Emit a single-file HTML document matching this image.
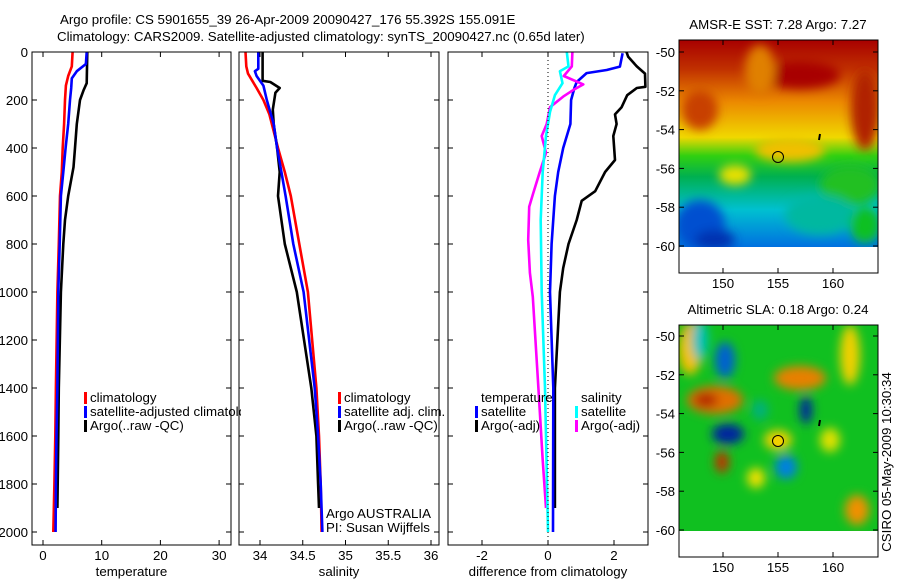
<!DOCTYPE html>
<html><head><meta charset="utf-8"><style>
body{margin:0;background:#fff;}
svg text{font-family:"Liberation Sans",sans-serif;font-size:13.3px;fill:#000;}
</style></head><body>
<svg id="c" width="900" height="580" viewBox="0 0 900 580" xmlns="http://www.w3.org/2000/svg">
<defs>
<filter id="blur" x="-50%" y="-50%" width="200%" height="200%"><feGaussianBlur stdDeviation="5"/></filter>
<clipPath id="clip1"><rect x="679" y="40" width="199" height="207"/></clipPath>
<clipPath id="clip2"><rect x="679" y="325" width="199" height="206"/></clipPath>
<clipPath id="legclip"><rect x="32" y="380" width="209" height="60"/></clipPath>
<clipPath id="p3clip"><rect x="448" y="52" width="200" height="493"/></clipPath>
<linearGradient id="sstg" x1="0" y1="0" x2="0" y2="1">
<stop offset="0" stop-color="#a80000"/><stop offset="0.14" stop-color="#c03000"/>
<stop offset="0.3" stop-color="#ec8a00"/><stop offset="0.47" stop-color="#f0d800"/>
<stop offset="0.56" stop-color="#30d010"/><stop offset="0.66" stop-color="#00b050"/>
<stop offset="0.82" stop-color="#00c0d0"/><stop offset="1" stop-color="#0070e0"/>
</linearGradient>
</defs>
<text x="60" y="24">Argo profile: CS 5901655_39 26-Apr-2009 20090427_176 55.392S 155.091E</text>
<text x="57" y="41">Climatology: CARS2009. Satellite-adjusted climatology: synTS_20090427.nc (0.65d later)</text>
<g id="plots"></g>
<g>
<text x="778" y="29" text-anchor="middle">AMSR-E SST: 7.28 Argo: 7.27</text>
<g clip-path="url(#clip1)">
<rect x="679" y="40" width="199" height="207" fill="url(#sstg)"/>
<g filter="url(#blur)">
<ellipse cx="800" cy="75" rx="40" ry="14" fill="#a80000"/>
<ellipse cx="865" cy="110" rx="14" ry="40" fill="#b02000"/>
<ellipse cx="760" cy="70" rx="15" ry="25" fill="#e08000"/>
<ellipse cx="700" cy="110" rx="18" ry="20" fill="#c84000"/>
<ellipse cx="790" cy="150" rx="35" ry="12" fill="#f0c000"/>
<ellipse cx="850" cy="185" rx="30" ry="20" fill="#20c020"/>
<ellipse cx="735" cy="175" rx="16" ry="10" fill="#e8e000"/>
<ellipse cx="700" cy="225" rx="25" ry="25" fill="#0050d0"/>
<ellipse cx="715" cy="240" rx="20" ry="10" fill="#0030b0"/>
<ellipse cx="820" cy="215" rx="35" ry="20" fill="#00b8a0"/>
<ellipse cx="865" cy="225" rx="15" ry="18" fill="#10c020"/>
</g></g>
<rect x="679" y="40" width="199" height="233" fill="none" stroke="#000"/>
<circle cx="778" cy="157" r="5.5" fill="none" stroke="#000"/>
<path d="M819 140 L820 134" stroke="#000" stroke-width="2"/>
</g>
<g>
<text x="778" y="314" text-anchor="middle">Altimetric SLA: 0.18 Argo: 0.24</text>
<g clip-path="url(#clip2)">
<rect x="679" y="325" width="199" height="206" fill="#10c020"/>
<g filter="url(#blur)">
<ellipse cx="690" cy="350" rx="12" ry="25" fill="#f0c000"/>
<ellipse cx="725" cy="360" rx="10" ry="18" fill="#0060d0"/>
<ellipse cx="715" cy="400" rx="28" ry="14" fill="#e07000"/>
<ellipse cx="706" cy="400" rx="12" ry="7" fill="#b02000"/>
<ellipse cx="800" cy="378" rx="26" ry="12" fill="#e88000"/>
<ellipse cx="806" cy="410" rx="6" ry="14" fill="#0020a0"/>
<ellipse cx="728" cy="434" rx="16" ry="10" fill="#0020a0"/>
<ellipse cx="722" cy="462" rx="7" ry="11" fill="#c03000"/>
<ellipse cx="786" cy="467" rx="11" ry="12" fill="#0080e0"/>
<ellipse cx="778" cy="440" rx="14" ry="10" fill="#f0d000"/>
<ellipse cx="857" cy="510" rx="12" ry="15" fill="#f09000"/>
<ellipse cx="850" cy="355" rx="10" ry="30" fill="#f0d000"/>
<ellipse cx="756" cy="478" rx="9" ry="10" fill="#f0e000"/>
<ellipse cx="694" cy="330" rx="12" ry="8" fill="#f0b000"/>
<ellipse cx="700" cy="340" rx="8" ry="20" fill="#00c0c0"/>
<ellipse cx="760" cy="410" rx="8" ry="10" fill="#00b080"/>
<ellipse cx="830" cy="440" rx="10" ry="12" fill="#e0e000"/>
</g></g>
<rect x="679" y="325" width="199" height="232" fill="none" stroke="#000"/>
<circle cx="778" cy="441" r="5.5" fill="#f0d000" stroke="#000"/>
<path d="M819 426 L820 420" stroke="#000" stroke-width="2"/>
</g>
<text transform="translate(891,462) rotate(-90)" text-anchor="middle">CSIRO 05-May-2009 10:30:34</text>
<g id="maps"></g>
</svg>
<script>
const depthTicks=[0,200,400,600,800,1000,1200,1400,1600,1800,2000];
const tempTicks=[0,10,20,30];
const salTicks=[34,34.5,35,35.5,36];
const diffTicks=[-2,0,2];
const latTicks=[-50,-52,-54,-56,-58,-60];
const lonTicks=[150,155,160];
const tClimDepth=[0,60,100,140,200,300,400,500,600,800,1000,1400,1600,1800,2000];
const tClimVal=[5.05,4.9,4.3,3.9,3.75,3.6,3.35,3.2,2.9,2.7,2.45,2.2,2.1,1.95,1.75];
const tSatDepth=[0,50,80,110,150,200,300,400,500,600,800,1000,1400,1600,1800,2000];
const tSatVal=[7.45,7.3,5.75,4.9,4.8,4.6,4.3,3.85,3.45,3.05,2.85,2.6,2.45,2.3,2.2,2.15];
const tArgoDepth=[0,130,160,200,300,400,480,600,700,800,1000,1400,1600,1900];
const tArgoVal=[7.55,7.45,6.9,6.3,5.75,5.45,5.2,4.3,3.75,3.45,3.05,2.7,2.6,2.45];
const sClimDepth=[0,60,90,150,200,260,400,500,600,800,1000,1400,1600,1800,2000];
const sClimVal=[33.83,33.84,33.86,33.96,34.04,34.11,34.21,34.29,34.36,34.46,34.56,34.66,34.69,34.71,34.72];
const sSatDepth=[0,70,80,100,140,200,300,400,500,600,800,1000,1400,1600,1800,2000];
const sSatVal=[33.98,33.98,33.94,33.96,34.04,34.08,34.16,34.2,34.25,34.3,34.39,34.51,34.64,34.68,34.71,34.73];
const sArgoDepth=[0,120,125,150,170,240,300,400,500,600,700,800,1000,1400,1600,1800,1900];
const sArgoVal=[34.03,34.03,34.12,34.23,34.18,34.15,34.16,34.2,34.23,34.21,34.25,34.29,34.43,34.6,34.66,34.68,34.69];
const dTSatDepth=[5,61,75,88,125,150,200,300,400,500,600,800,1000,1400,2000];
const dTSatVal=[2.26,2.18,1.78,1.17,0.87,0.8,0.7,0.68,0.46,0.31,0.21,0.11,0.06,0.16,0.15];
const dTArgoDepth=[0,20,60,90,145,150,180,230,260,300,350,450,500,580,620,700,800,900,1000,1400,1900];
const dTArgoVal=[2.38,2.43,2.69,2.94,2.95,2.69,2.4,2.23,2.03,2.08,1.98,2.03,1.73,1.43,1.02,0.87,0.62,0.46,0.36,0.21,0.21];
const dSSatDepth=[0,60,80,130,180,250,350,500,700,1000,1400,2000];
const dSSatVal=[0.57,0.62,0.36,0.44,0.21,0.06,-0.06,-0.16,-0.22,-0.19,-0.09,0.0];
const dSArgoDepth=[0,60,100,135,158,186,230,300,350,420,505,590,645,783,920,1020,1400,1700,1900];
const dSArgoVal=[0.74,0.72,0.48,1.07,0.77,0.46,0.06,-0.04,-0.19,-0.06,-0.26,-0.45,-0.57,-0.6,-0.55,-0.46,-0.29,-0.16,-0.06];

const NS='http://www.w3.org/2000/svg';
const g=document.getElementById('plots');
function mk(tag,attrs,parent){const e=document.createElementNS(NS,tag);for(const k in attrs)e.setAttribute(k,attrs[k]);(parent||g).appendChild(e);return e;}
const Y0=52,PY=0.24,BOT=545,TOP=52;
const yD=d=>Y0+d*PY;
const panels=[
 {name:'temperature-panel',l:32,r:231,x0:43,sc:5.87,c:0,ticks:tempTicks,label:'temperature'},
 {name:'salinity-panel',l:239,r:439,x0:260,sc:85.5,c:34,ticks:salTicks,label:'salinity'},
 {name:'difference-panel',l:448,r:648,x0:548,sc:33,c:0,ticks:diffTicks,label:'difference from climatology'}
];
panels.forEach((p,i)=>{
 const pg=mk('g',{});
 
 
 p.g=pg;p.x=v=>p.x0+(v-p.c)*p.sc;
 p.lines=mk('g',i===2?{'clip-path':'url(#p3clip)'}:{},pg);
 const box=mk('rect',{x:p.l,y:TOP,width:p.r-p.l,height:BOT-TOP,fill:'none',stroke:'#000'},pg);
 
 
 depthTicks.forEach(d=>{
  mk('line',{x1:p.l,x2:p.l+5,y1:yD(d),y2:yD(d),stroke:'#000'},pg);
  mk('line',{x1:p.r,x2:p.r-5,y1:yD(d),y2:yD(d),stroke:'#000'},pg);
  if(i===0){const t=mk('text',{x:28,y:yD(d)+5,'text-anchor':'end'},pg);t.textContent=d;
   
   }
 });
 p.ticks.forEach(v=>{
  const x=p.x(v);
  mk('line',{x1:x,x2:x,y1:BOT,y2:BOT-5,stroke:'#000'},pg);
  mk('line',{x1:x,x2:x,y1:TOP,y2:TOP+5,stroke:'#000'},pg);
  const t=mk('text',{x:x,y:560,'text-anchor':'middle'},pg);t.textContent=v;
  
  
 });
 const xl=mk('text',{x:(p.l+p.r)/2,y:576,'text-anchor':'middle'},pg);xl.textContent=p.label;
 
 
});
const zl=mk('line',{x1:548,x2:548,y1:TOP,y2:BOT,stroke:'#000','stroke-dasharray':'1,3'},panels[2].g);


function line(p,depths,vals,color,name){
 const pts=depths.map((d,k)=>p.x(vals[k]).toFixed(1)+','+yD(d).toFixed(1)).join(' ');
 const e=mk('polyline',{points:pts,fill:'none',stroke:color,'stroke-width':2.6,'stroke-linejoin':'round'},p.lines);
 
 
}
line(panels[0],tClimDepth,tClimVal,'#f00','temp-climatology-line');
line(panels[0],tArgoDepth,tArgoVal,'#000','temp-argo-line');
line(panels[0],tSatDepth,tSatVal,'#00f','temp-satellite-line');
line(panels[1],sClimDepth,sClimVal,'#f00','sal-climatology-line');
line(panels[1],sArgoDepth,sArgoVal,'#000','sal-argo-line');
line(panels[1],sSatDepth,sSatVal,'#00f','sal-satellite-line');
line(panels[2],dTArgoDepth,dTArgoVal,'#000','diff-temp-argo-line');
line(panels[2],dTSatDepth,dTSatVal,'#00f','diff-temp-satellite-line');
line(panels[2],dSArgoDepth,dSArgoVal,'#f0f','diff-sal-argo-line');
line(panels[2],dSSatDepth,dSSatVal,'#0ff','diff-sal-satellite-line');
function legend(pg,x,y,color,text){
 if(color){const m=mk('rect',{x:x-6,y:y-10,width:3,height:12,fill:color},pg);
  
  }
 const t=mk('text',{x:x,y:y},pg);t.textContent=text;
 
 
 return t;
}
legend(panels[0].g,90,402,'#f00','climatology');
legend(panels[0].g,90,416,'#00f','satellite-adjusted climatology').setAttribute('clip-path','url(#legclip)');
legend(panels[0].g,90,430,'#000','Argo(..raw -QC)');
legend(panels[1].g,344,402,'#f00','climatology');
legend(panels[1].g,344,416,'#00f','satellite adj. clim.');
legend(panels[1].g,344,430,'#000','Argo(..raw -QC)');
legend(panels[1].g,326,518,null,'Argo AUSTRALIA');
legend(panels[1].g,326,532,null,'PI: Susan Wijffels');
legend(panels[2].g,481,402,null,'temperature');
legend(panels[2].g,481,416,'#00f','satellite');
legend(panels[2].g,481,430,'#000','Argo(-adj)');
legend(panels[2].g,581,402,null,'salinity');
legend(panels[2].g,581,416,'#0ff','satellite');
legend(panels[2].g,581,430,'#f0f','Argo(-adj)');
const mg=document.getElementById('maps');
[{y50:52,top:40,bot:273,lab:288},{y50:336,top:325,bot:557,lab:572}].forEach(m=>{
 latTicks.forEach(lat=>{
  const y=m.y50+(lat+50)*-19.4;
  mk('line',{x1:679,x2:684,y1:y,y2:y,stroke:'#000'},mg);
  mk('line',{x1:878,x2:873,y1:y,y2:y,stroke:'#000'},mg);
  const t=mk('text',{x:675,y:y+5,'text-anchor':'end'},mg);t.textContent=lat;
  
  
 });
 lonTicks.forEach(lon=>{
  const x=723+(lon-150)*11;
  mk('line',{x1:x,x2:x,y1:m.bot,y2:m.bot-5,stroke:'#000'},mg);
  mk('line',{x1:x,x2:x,y1:m.top,y2:m.top+5,stroke:'#000'},mg);
  const t=mk('text',{x:x,y:m.lab,'text-anchor':'middle'},mg);t.textContent=lon;
  
  
 });
});
</script>
</body></html>
